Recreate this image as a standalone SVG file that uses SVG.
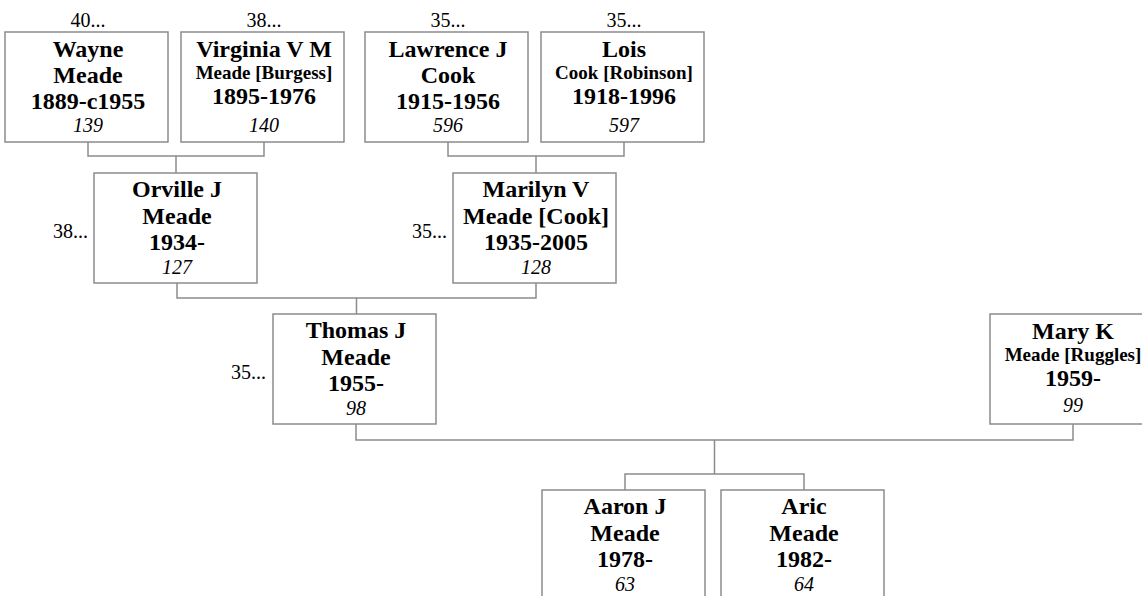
<svg xmlns="http://www.w3.org/2000/svg" width="1142" height="596" viewBox="0 0 1142 596">
<style>
text{font-family:'Liberation Serif','Times New Roman',Times,serif;fill:#000;text-anchor:middle}
.box{fill:#fff;stroke:#8c8c8c;stroke-width:1.5}
.ln{fill:none;stroke:#8c8c8c;stroke-width:1.5}
.b{font-weight:bold;font-size:24px}
.s{font-weight:bold;font-size:19px}
.n{font-style:italic;font-size:20px}
.lbl{font-size:20px}
.l{text-anchor:end}
</style>
<rect width="1142" height="596" fill="#fff"/>
<g id="connectors">
<path class="ln" d="M88,142V156H264V142M176,156V173"/>
<path class="ln" d="M448,142V156H624V142M536,156V173"/>
<path class="ln" d="M177,283V298H536V283M356.5,298V314"/>
<path class="ln" d="M356,424V440H1073V424M714.5,440V474M625,490V474H804V490"/>
</g>
<g id="wayne">
<rect class="box" x="5" y="32" width="163" height="110"/>
<text class="lbl" x="88" y="27">40...</text>
<text class="b" x="88" y="57">Wayne</text>
<text class="b" x="88" y="83">Meade</text>
<text class="b" x="88" y="109">1889-c1955</text>
<text class="n" x="88" y="132">139</text>
</g>
<g id="virginia">
<rect class="box" x="181" y="32" width="163" height="110"/>
<text class="lbl" x="264" y="27">38...</text>
<text class="b" x="264" y="56.5">Virginia V M</text>
<text class="s" x="264" y="79">Meade [Burgess]</text>
<text class="b" x="264" y="104">1895-1976</text>
<text class="n" x="264" y="131.5">140</text>
</g>
<g id="lawrence">
<rect class="box" x="365" y="32" width="163" height="110"/>
<text class="lbl" x="448" y="27">35...</text>
<text class="b" x="448" y="57">Lawrence J</text>
<text class="b" x="448" y="83">Cook</text>
<text class="b" x="448" y="109">1915-1956</text>
<text class="n" x="448" y="132">596</text>
</g>
<g id="lois">
<rect class="box" x="541" y="32" width="163" height="110"/>
<text class="lbl" x="624" y="27">35...</text>
<text class="b" x="624" y="56.5">Lois</text>
<text class="s" x="624" y="79">Cook [Robinson]</text>
<text class="b" x="624" y="104">1918-1996</text>
<text class="n" x="624" y="131.5">597</text>
</g>
<g id="orville">
<rect class="box" x="94" y="173" width="163" height="110"/>
<text class="lbl l" x="88" y="238">38...</text>
<text class="b" x="177" y="197">Orville J</text>
<text class="b" x="177" y="223.5">Meade</text>
<text class="b" x="177" y="250">1934-</text>
<text class="n" x="177" y="274">127</text>
</g>
<g id="marilyn">
<rect class="box" x="453" y="173" width="163" height="110"/>
<text class="lbl l" x="447" y="238">35...</text>
<text class="b" x="536" y="197">Marilyn V</text>
<text class="b" x="536" y="223.5">Meade [Cook]</text>
<text class="b" x="536" y="250">1935-2005</text>
<text class="n" x="536" y="274">128</text>
</g>
<g id="thomas">
<rect class="box" x="273" y="314" width="163" height="110"/>
<text class="lbl l" x="266" y="379">35...</text>
<text class="b" x="356" y="338">Thomas J</text>
<text class="b" x="356" y="364.5">Meade</text>
<text class="b" x="356" y="391">1955-</text>
<text class="n" x="356" y="415">98</text>
</g>
<g id="mary">
<rect class="box" x="990" y="314" width="163" height="110"/>
<text class="b" x="1073" y="338.5">Mary K</text>
<text class="s" x="1073" y="361">Meade [Ruggles]</text>
<text class="b" x="1073" y="386">1959-</text>
<text class="n" x="1073" y="411.5">99</text>
</g>
<g id="aaron">
<rect class="box" x="542" y="490" width="163" height="110"/>
<text class="b" x="625" y="514">Aaron J</text>
<text class="b" x="625" y="540.5">Meade</text>
<text class="b" x="625" y="567">1978-</text>
<text class="n" x="625" y="591">63</text>
</g>
<g id="aric">
<rect class="box" x="721" y="490" width="163" height="110"/>
<text class="b" x="804" y="514">Aric</text>
<text class="b" x="804" y="540.5">Meade</text>
<text class="b" x="804" y="567">1982-</text>
<text class="n" x="804" y="591">64</text>
</g>
</svg>
